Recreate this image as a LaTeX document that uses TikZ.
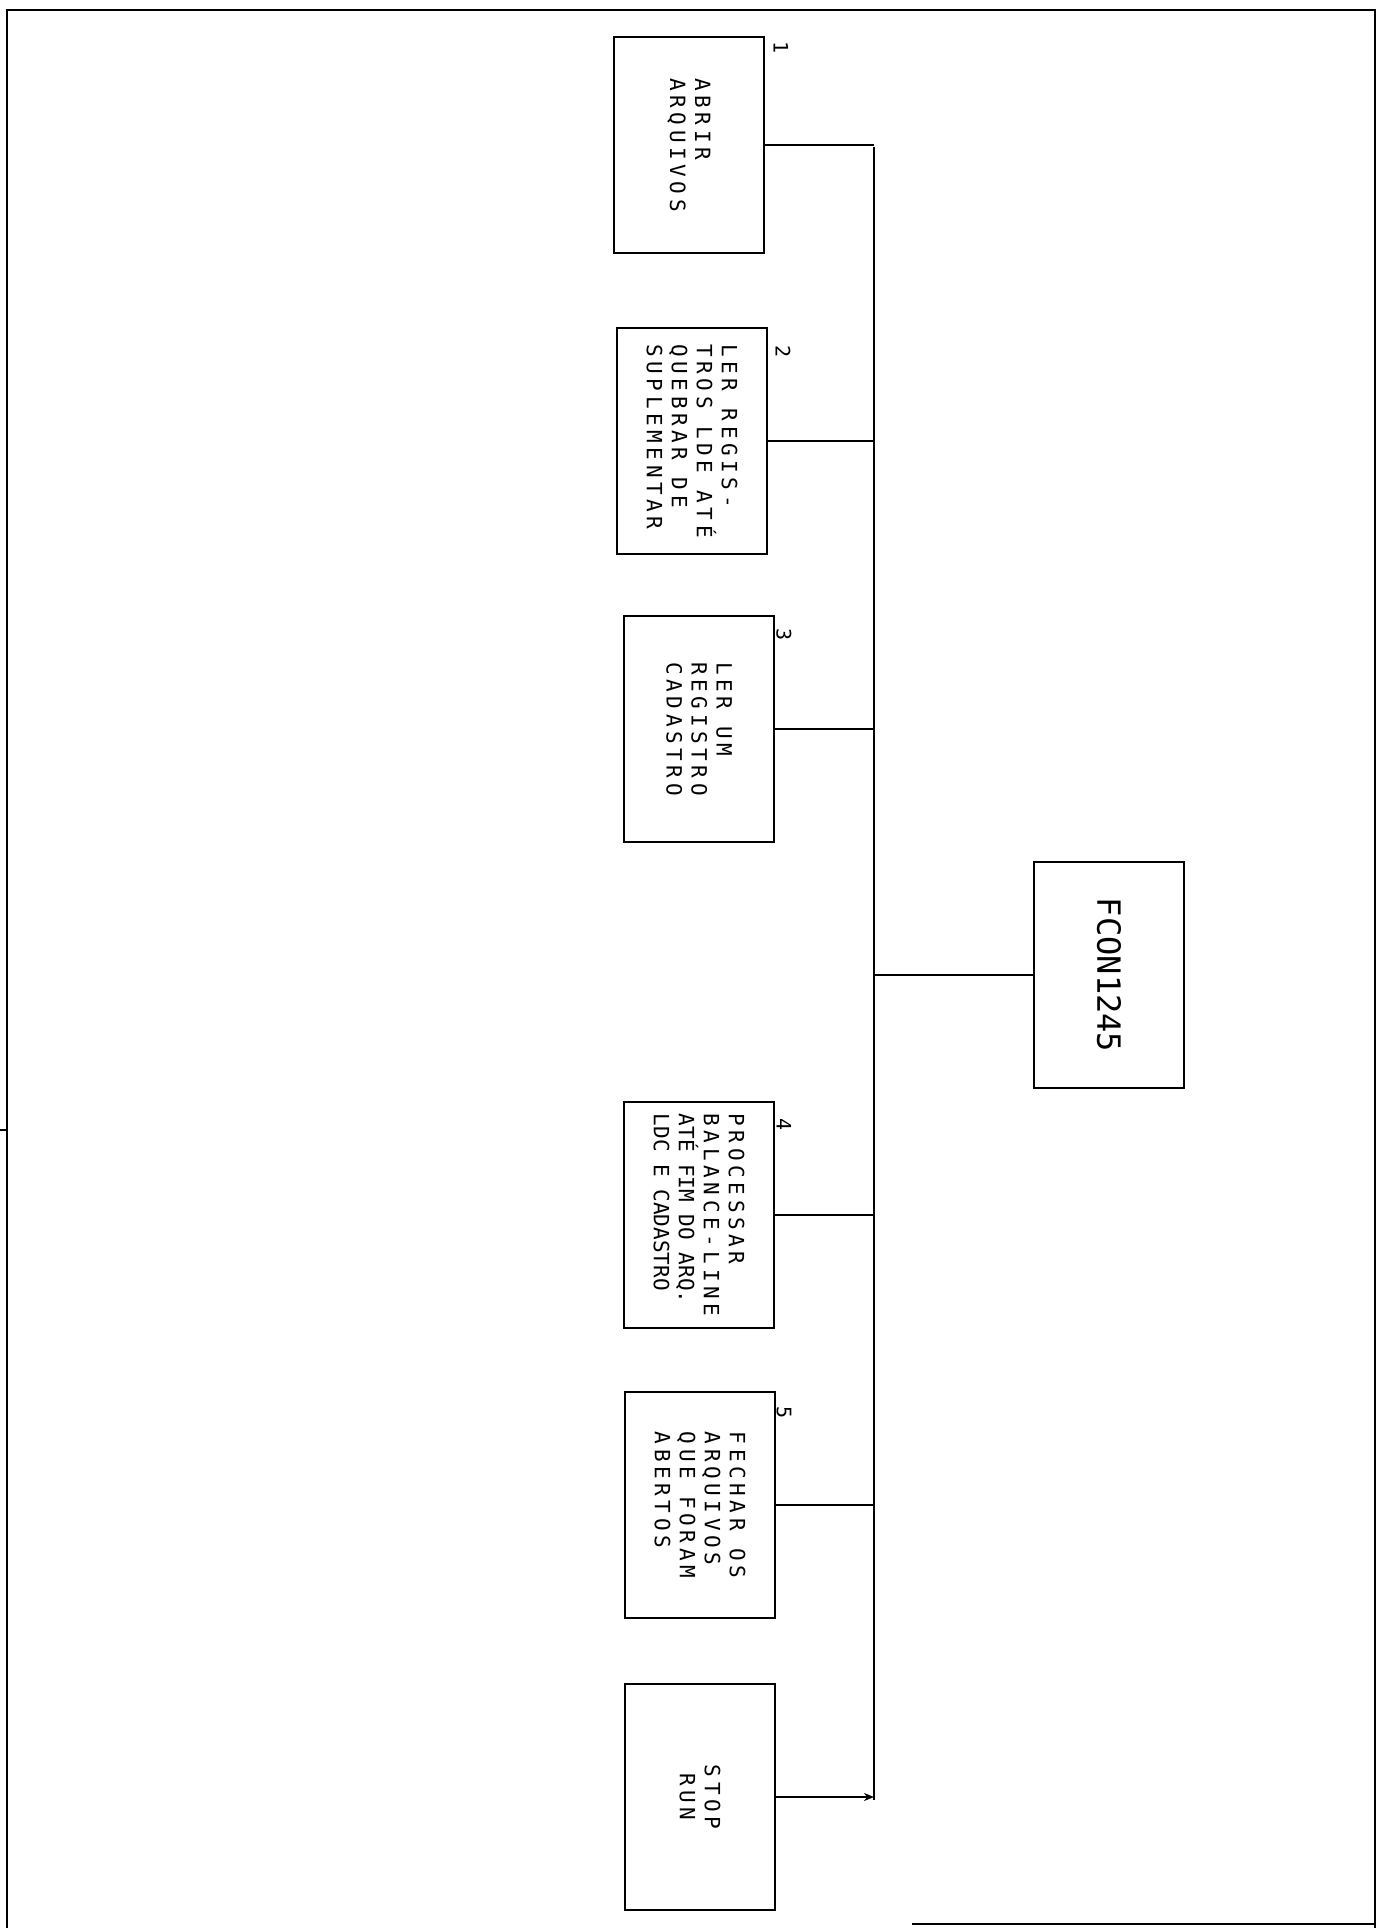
\documentclass[tikz,border=0pt]{standalone}
\usepackage{fontspec}
\usetikzlibrary{arrows.meta}
\newfontfamily\handfont[LetterSpace=22]{DejaVu Sans Mono}
\newfontfamily\handplain{DejaVu Sans Mono}
\begin{document}
\begin{tikzpicture}[x=0.5pt,y=-0.5pt,
  box/.style={draw,line width=1.1pt,rotate=-90,minimum width=113pt,
    minimum height=75pt,inner sep=2pt,align=left,
    font=\handfont\fontsize{10.5}{12.5}\selectfont},
  num/.style={rotate=-90,inner sep=1pt,font=\handplain\fontsize{10}{12}\selectfont},
  link/.style={line width=0.9pt},
  trunk/.style={line width=1.3pt},
  frame/.style={line width=1.4pt}]
  \useasboundingbox (0,0) rectangle (1389,1928);
  \draw[frame] (7,1928) -- (7,10) -- (1375,10) -- (1375,1928);
  \draw[frame] (912,1924) -- (1375,1924);
  \draw[link] (0,1130) -- (7,1130);
  \node[box,minimum width=108pt] (abrir) at (689,145) {ABRIR\\ARQUIVOS};
  \node[box] (ler) at (692,441)
    {LER REGIS-\\TROS LDE ATÉ\\QUEBRAR DE\\SUPLEMENTAR};
  \node[box] (cad) at (699,729) {LER UM\\REGISTRO\\CADASTRO};
  \node[box,font=\handplain\fontsize{16}{19}\selectfont] (root) at (1109,975)
    {FCON1245};
  \node[box] (proc) at (699,1215)
    {PROCESSAR\\BALANCE-LINE\\{\handplain ATÉ FIM DO ARQ.}\\{\handplain LDC E CADASTRO}};
  \node[box] (fechar) at (700,1505) {FECHAR OS\\ARQUIVOS\\QUE FORAM\\ABERTOS};
  \node[box,align=center] (stop) at (700,1797) {STOP\\RUN};
  \node[num] (n1) at (781,48) {1};
  \node[num] (n2) at (783,352) {2};
  \node[num] (n3) at (784,635) {3};
  \node[num] (n4) at (784,1125) {4};
  \node[num] (n5) at (784,1413) {5};
  \coordinate (ttop) at (874,147);
  \coordinate (tbot) at (874,1800);
  \draw[trunk] (ttop) -- (tbot);
  \foreach \b in {abrir,ler,cad,proc,fechar}
    \draw[link] (\b.north) -- (\b.north -| ttop);
  \draw[link,-{Stealth[length=5pt,width=4pt]}] (stop.north) -- (stop.north -| ttop);
  \draw[link] (root.south) -- (root.south -| ttop);
\end{tikzpicture}
\end{document}
